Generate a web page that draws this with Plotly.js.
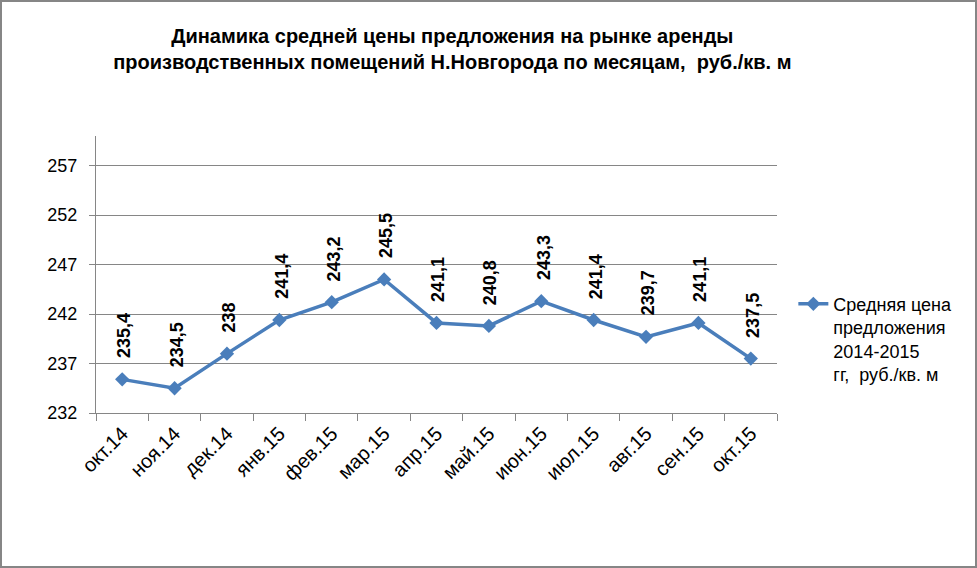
<!DOCTYPE html>
<html>
<head>
<meta charset="utf-8">
<script src="https://cdn.plot.ly/plotly-3.0.1.min.js"></script>
<style>
  html, body { margin: 0; padding: 0; background: #ffffff; }
  #wrap { position: relative; width: 977px; height: 568px; }
  #chart { width: 977px; height: 568px; }
  #frame { position: absolute; left: 0; top: 0; width: 977px; height: 568px;
           box-sizing: border-box; border: 2px solid #868686; pointer-events: none; }
</style>
</head>
<body>
<div id="wrap">
  <div id="chart"></div>
  <div id="frame"></div>
</div>
<script>
// ---- data ----
const months = ["окт.14", "ноя.14", "дек.14", "янв.15", "фев.15", "мар.15", "апр.15",
                "май.15", "июн.15", "июл.15", "авг.15", "сен.15", "окт.15"];
const prices = [235.4, 234.5, 238, 241.4, 243.2, 245.5, 241.1, 240.8, 243.3, 241.4, 239.7, 241.1, 237.5];
const seriesName = "Средняя цена<br>предложения<br>2014-2015<br>гг,  руб./кв. м";
const chartTitle = "Динамика средней цены предложения на рынке аренды<br>производственных помещений Н.Новгорода по месяцам,  руб./кв. м";

const FONT = "Liberation Sans, Arial, sans-serif";
const GREY = "#868686";
const BLUE = "#4A7EBB";

const trace = {
  type: "scatter",
  mode: "lines+markers",
  x: months,
  y: prices,
  name: seriesName,
  line: { color: BLUE, width: 3.5 },
  marker: { symbol: "diamond", size: 11, color: BLUE },
  hoverinfo: "x+y"
};

const labels = months.map((m, i) => ({
  x: m,
  y: prices[i],
  xref: "x",
  yref: "y",
  text: String(prices[i]).replace(".", ","),
  textangle: -90,
  showarrow: false,
  xanchor: "center",
  yanchor: "bottom",
  yshift: 19,
  xshift: 2,
  font: { family: FONT, size: 18, color: "#000000", weight: "bold" }
}));

const layout = {
  width: 977,
  height: 568,
  margin: { l: 96, r: 200, t: 136, b: 155 },
  paper_bgcolor: "#ffffff",
  plot_bgcolor: "#ffffff",
  font: { family: FONT, size: 18, color: "#000000" },
  title: {
    text: "<b>" + chartTitle + "</b>",
    font: { family: FONT, size: 20, color: "#000000" },
    xref: "container",
    yref: "container",
    x: 0.463,
    xanchor: "center",
    y: 0.925,
    yanchor: "top"
  },
  showlegend: true,
  legend: {
    x: 1.024,
    xanchor: "left",
    y: 0.46,
    yanchor: "top",
    valign: "top",
    font: { family: FONT, size: 18, color: "#000000" },
    bgcolor: "rgba(0,0,0,0)"
  },
  xaxis: {
    type: "category",
    range: [-0.5, 12.5],
    tickson: "boundaries",
    ticks: "outside",
    ticklen: 7,
    tickcolor: GREY,
    tickwidth: 1,
    showline: true,
    linecolor: GREY,
    linewidth: 1,
    showgrid: false,
    zeroline: false,
    tickangle: -45,
    tickfont: { family: FONT, size: 20, color: "#000000" },
    fixedrange: true
  },
  yaxis: {
    range: [232, 260],
    tick0: 232,
    dtick: 5,
    ticks: "outside",
    ticklen: 6,
    tickcolor: GREY,
    tickwidth: 1,
    showline: true,
    linecolor: GREY,
    linewidth: 1,
    showgrid: true,
    gridcolor: GREY,
    gridwidth: 1,
    zeroline: false,
    ticklabelstandoff: 8,
    tickfont: { family: FONT, size: 18, color: "#000000" },
    fixedrange: true
  },
  annotations: labels
};

Plotly.newPlot("chart", [trace], layout, { displayModeBar: false });
</script>
</body>
</html>
